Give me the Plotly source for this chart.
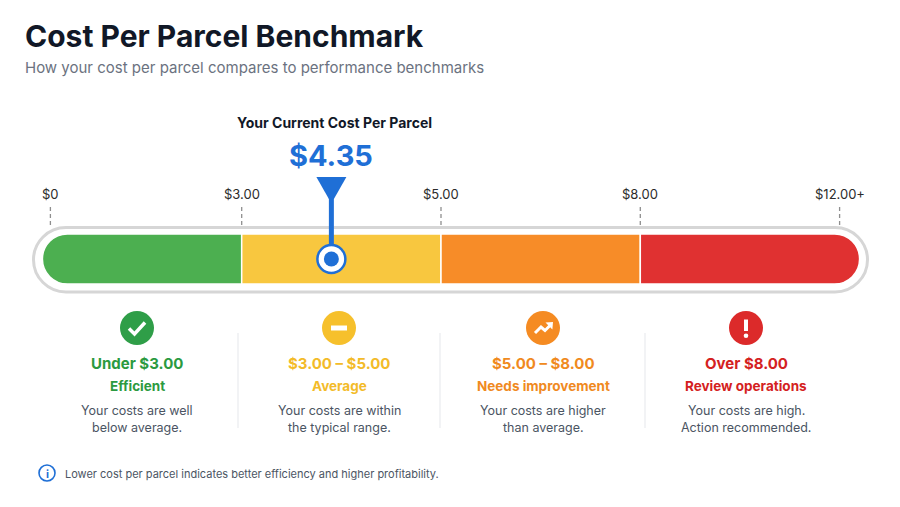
import plotly.graph_objects as go

W, H = 900, 507
OFF = 8               # page body margin
FONT = "Inter"

# ---- data ----
tick_values = [0, 3, 5, 8, 12]
tick_labels = ["$0", "$3.00", "$5.00", "$8.00", "$12.00+"]
band_colors = ["#4caf50", "#f8c73f", "#f78c28", "#e03131"]
icon_colors = ["#2f9e48", "#f6c02c", "#f58b22", "#dc2a2a"]
text_colors = ["#2b9a40", "#f3bb29", "#f08a1e", "#d42121"]
band_ranges = ["Under $3.00", "$3.00 – $5.00", "$5.00 – $8.00", "Over $8.00"]
band_names = ["Efficient", "Average", "Needs improvement", "Review operations"]
band_notes = [
    ["Your costs are well", "below average."],
    ["Your costs are within", "the typical range."],
    ["Your costs are higher", "than average."],
    ["Your costs are high.", "Action recommended."],
]
current_cost = 4.35
scale_max = 12

BLUE = "#1f6fd6"
UNIT = 199.3          # pixels per band on the gauge axis
X0_PX = 42.4          # pixel where the gauge starts
n_bands = len(tick_values) - 1


def u(px):
    return (px - X0_PX) / UNIT


def P(px, py):
    return (px - OFF) / W, 1 - (py - OFF) / H


def rpath(xl, xr, yt, yb, rxl, rxr, ry):
    k = 0.5523
    yc = (yt + yb) / 2
    s = f"M {xl + rxl},{yt} L {xr - rxr},{yt} "
    if rxr:
        s += (f"C {xr - rxr + k * rxr},{yt} {xr},{yc - k * ry} {xr},{yc} "
              f"C {xr},{yc + k * ry} {xr - rxr + k * rxr},{yb} {xr - rxr},{yb} ")
    else:
        s += f"L {xr},{yb} "
    s += f"L {xl + rxl},{yb} "
    if rxl:
        s += (f"C {xl + rxl - k * rxl},{yb} {xl},{yc + k * ry} {xl},{yc} "
              f"C {xl},{yc - k * ry} {xl + rxl - k * rxl},{yt} {xl + rxl},{yt} ")
    else:
        s += f"L {xl},{yt} "
    return s + "Z"


fig = go.Figure()
shapes = []
ann = []

# outer track outline
shapes.append(dict(type="path", xref="x", yref="y", layer="below",
                   path=rpath(u(33.5), u(867.5), 227.5, 292, 32.5 / UNIT, 32.5 / UNIT, 32.25),
                   line=dict(color="#d6d6d6", width=3), fillcolor="white"))

# bands
bt, bb, r = 234, 284, 25
for i in range(n_bands):
    xl, xr = i, i + 1
    rl = rr = 0
    if i == 0:
        rl = r / UNIT
    if i == n_bands - 1:
        xr = i + 1 + 20 / UNIT
        rr = r / UNIT
    shapes.append(dict(type="path", xref="x", yref="y", layer="below",
                       path=rpath(xl, xr, bt, bb, rl, rr, r),
                       line=dict(color="white", width=1.5), fillcolor=band_colors[i]))

# ticks
for i, lab in enumerate(tick_labels):
    tx = i + (8 / UNIT if i == 0 else 0)
    shapes.append(dict(type="line", xref="x", yref="y", x0=tx, x1=tx, y0=207, y1=226,
                       line=dict(color="#8f8f8f", width=1.3, dash="4px,3px")))
    ann.append(dict(x=tx, y=194, xref="x", yref="y", text=lab, showarrow=False,
                    xanchor="center", yanchor="middle",
                    font=dict(family=FONT, size=13, color="#2b2b2b")))

# current value marker (linear along 0..scale_max)
cur_u = current_cost / scale_max * n_bands
shapes.append(dict(type="line", xref="x", yref="y", x0=cur_u, x1=cur_u, y0=192, y1=246,
                   line=dict(color=BLUE, width=5)))
hw = 15 / UNIT
shapes.append(dict(type="path", xref="x", yref="y",
                   path=f"M {cur_u - hw},177 L {cur_u + hw},177 L {cur_u + 2.5 / UNIT},199 "
                        f"L {cur_u - 2.5 / UNIT},199 Z",
                   line=dict(width=0), fillcolor=BLUE))
fig.add_trace(go.Scatter(x=[cur_u], y=[259], mode="markers", hoverinfo="skip",
                         marker=dict(size=28, color="white", line=dict(color=BLUE, width=2.5))))
fig.add_trace(go.Scatter(x=[cur_u], y=[259], mode="markers", hoverinfo="skip",
                         marker=dict(size=15, color=BLUE, line=dict(width=0))))
ann.append(dict(x=cur_u, y=155, xref="x", yref="y", text=f"${current_cost:.2f}",
                showarrow=False, xanchor="center", yanchor="middle",
                font=dict(family=FONT, size=29, color=BLUE, weight=700)))
ann.append(dict(x=cur_u, y=122, xref="x", yref="y", text="Your Current Cost Per Parcel",
                showarrow=False, xanchor="center", yanchor="middle", xshift=3,
                font=dict(family=FONT, size=14, color="#111827", weight=700)))

# title
for txt, py, size, col, wt in [("Cost Per Parcel Benchmark", 36, 30, "#111827", 700),
                               ("How your cost per parcel compares to performance benchmarks", 68, 15, "#6b7280", 400)]:
    x, y = P(23, py)
    ann.append(dict(x=x, y=y, xref="paper", yref="paper", text=txt, showarrow=False,
                    xanchor="left", yanchor="middle",
                    font=dict(family=FONT, size=size, color=col, weight=wt)))

# cards
centers = [137, 339, 543, 746]
for xd in [238, 440, 645]:
    x, y0 = P(xd, 333)
    _, y1 = P(xd, 428)
    shapes.append(dict(type="line", xref="paper", yref="paper", x0=x, x1=x, y0=y0, y1=y1,
                       line=dict(color="#e5e7eb", width=1)))

for i, cx in enumerate(centers):
    x0, y0 = P(cx - 17, 311)
    x1, y1 = P(cx + 17, 345)
    shapes.append(dict(type="circle", xref="paper", yref="paper", x0=x0, x1=x1, y0=y0, y1=y1,
                       fillcolor=icon_colors[i], line=dict(width=0)))
    lines = [(band_ranges[i], 363, 15, text_colors[i], 700),
             (band_names[i], 386, 13.5, text_colors[i], 700),
             (band_notes[i][0], 410, 12.5, "#4b5563", 400),
             (band_notes[i][1], 427, 12.5, "#4b5563", 400)]
    for txt, py, size, col, wt in lines:
        x, y = P(cx, py)
        ann.append(dict(x=x, y=y, xref="paper", yref="paper", text=txt, showarrow=False,
                        xanchor="center", yanchor="middle",
                        font=dict(family=FONT, size=size, color=col, weight=wt)))


def ppath(points, close=False):
    s = ""
    for j, (px, py) in enumerate(points):
        x, y = P(px, py)
        s += ("M " if j == 0 else "L ") + f"{x},{y} "
    return s + ("Z" if close else "")


# icon glyphs
cx = centers[0]
shapes.append(dict(type="path", xref="paper", yref="paper",
                   path=ppath([(cx - 8, 328.5), (cx - 2.5, 334), (cx + 8, 322.5)]),
                   line=dict(color="white", width=3.5)))
cx = centers[1]
shapes.append(dict(type="path", xref="paper", yref="paper",
                   path=ppath([(cx - 8, 328), (cx + 8, 328)]),
                   line=dict(color="white", width=5)))
cx = centers[2]
shapes.append(dict(type="path", xref="paper", yref="paper",
                   path=ppath([(cx - 8, 333), (cx - 2, 327), (cx + 2, 330.5), (cx + 7.5, 325)]),
                   line=dict(color="white", width=3)))
shapes.append(dict(type="path", xref="paper", yref="paper",
                   path=ppath([(cx + 10, 322), (cx + 2.5, 322.6), (cx + 9.4, 329.5)], close=True),
                   line=dict(width=0), fillcolor="white"))
cx = centers[3]
shapes.append(dict(type="path", xref="paper", yref="paper",
                   path=ppath([(cx, 319.5), (cx, 331)]),
                   line=dict(color="white", width=4)))
x0, y0 = P(cx - 2.3, 333.5)
x1, y1 = P(cx + 2.3, 338.1)
shapes.append(dict(type="circle", xref="paper", yref="paper", x0=x0, x1=x1, y0=y0, y1=y1,
                   fillcolor="white", line=dict(width=0)))

# footnote
x0, y0 = P(39, 465)
x1, y1 = P(55, 481)
shapes.append(dict(type="circle", xref="paper", yref="paper", x0=x0, x1=x1, y0=y0, y1=y1,
                   fillcolor="white", line=dict(color=BLUE, width=1.6)))
x, y = P(47, 473.5)
ann.append(dict(x=x, y=y, xref="paper", yref="paper", text="i", showarrow=False,
                xanchor="center", yanchor="middle",
                font=dict(family=FONT, size=11, color=BLUE, weight=700)))
x, y = P(63, 473.5)
ann.append(dict(x=x, y=y, xref="paper", yref="paper",
                text="Lower cost per parcel indicates better efficiency and higher profitability.",
                showarrow=False, xanchor="left", yanchor="middle",
                font=dict(family=FONT, size=11, color="#4b5563")))

fig.update_layout(
    width=W, height=H,
    margin=dict(l=0, r=0, t=0, b=0),
    paper_bgcolor="white", plot_bgcolor="white",
    showlegend=False,
    xaxis=dict(range=[u(OFF), u(W + OFF)], visible=False, fixedrange=True),
    yaxis=dict(range=[H + OFF, OFF], visible=False, fixedrange=True),
    shapes=shapes,
    annotations=ann,
)

fig.write_html("out.html")
